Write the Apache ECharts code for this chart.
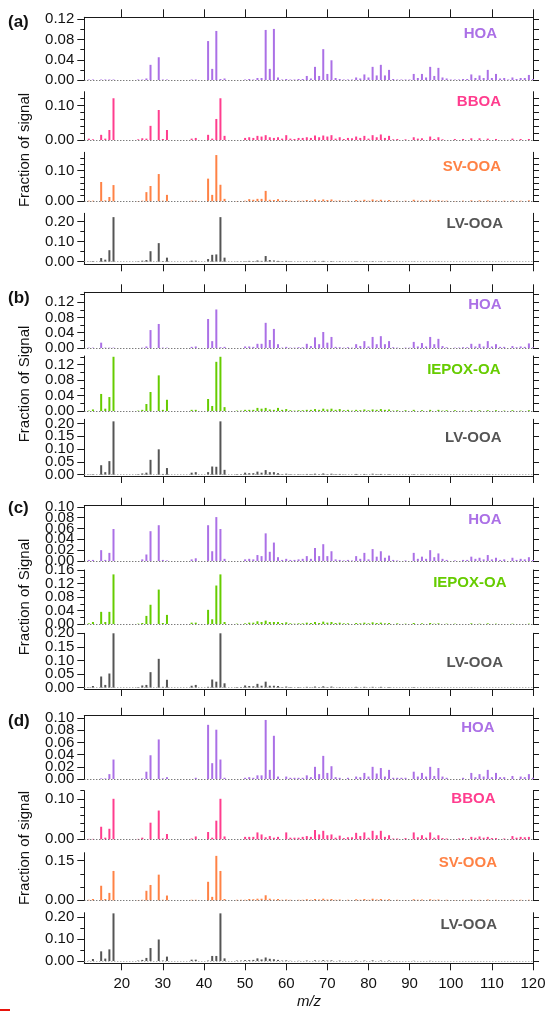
<!DOCTYPE html>
<html><head><meta charset="utf-8">
<script src="https://cdn.jsdelivr.net/npm/echarts@6/dist/echarts.min.js"></script>
<style>html,body{margin:0;padding:0;background:#fff}#c{width:549px;height:1012px}</style>
</head><body><div id="c"></div>
<script>
// ---------- data (m/z, fraction of signal) ----------
const X_TICKS = [20, 30, 40, 50, 60, 70, 80, 90, 100, 110, 120];

const hoaA = [[12,0.001],[13,0.001],[15,0.001],[16,0.001],[17,0.001],[18,0.001],[24,0.001],[25,0.001],[26,0.003],[27,0.030],[29,0.045],[30,0.001],[31,0.001],[37,0.001],[38,0.001],[41,0.077],[42,0.022],[43,0.097],[44,0.002],[45,0.003],[50,0.001],[51,0.002],[52,0.001],[53,0.004],[54,0.004],[55,0.099],[56,0.022],[57,0.101],[58,0.005],[59,0.001],[60,0.002],[61,0.001],[62,0.001],[63,0.002],[64,0.002],[65,0.008],[66,0.003],[67,0.026],[68,0.008],[69,0.061],[70,0.012],[71,0.039],[72,0.004],[73,0.002],[74,0.001],[75,0.001],[76,0.001],[77,0.005],[78,0.003],[79,0.011],[80,0.005],[81,0.026],[82,0.009],[83,0.030],[84,0.009],[85,0.020],[86,0.002],[87,0.001],[88,0.001],[89,0.001],[90,0.001],[91,0.012],[92,0.004],[93,0.012],[94,0.005],[95,0.026],[96,0.008],[97,0.024],[98,0.005],[99,0.003],[100,0.001],[101,0.001],[102,0.001],[103,0.002],[104,0.002],[105,0.011],[106,0.004],[107,0.009],[108,0.004],[109,0.020],[110,0.004],[111,0.012],[112,0.003],[113,0.004],[114,0.001],[115,0.005],[116,0.002],[117,0.004],[118,0.004],[119,0.010],[120,0.002]];
const bboaA = [[12,0.004],[13,0.002],[15,0.015],[16,0.004],[17,0.029],[18,0.121],[24,0.002],[25,0.005],[26,0.004],[27,0.041],[29,0.087],[30,0.003],[31,0.029],[37,0.004],[38,0.006],[41,0.015],[42,0.004],[43,0.061],[44,0.121],[45,0.012],[50,0.006],[51,0.008],[52,0.006],[53,0.012],[54,0.010],[55,0.014],[56,0.008],[57,0.006],[58,0.008],[59,0.004],[60,0.014],[61,0.004],[62,0.003],[63,0.006],[64,0.006],[65,0.008],[66,0.006],[67,0.013],[68,0.008],[69,0.013],[70,0.010],[71,0.014],[72,0.004],[73,0.008],[74,0.003],[75,0.006],[76,0.005],[77,0.010],[78,0.006],[79,0.012],[80,0.004],[81,0.014],[82,0.008],[83,0.016],[84,0.006],[85,0.012],[86,0.002],[87,0.003],[89,0.002],[91,0.008],[92,0.004],[93,0.005],[95,0.010],[96,0.003],[97,0.008],[98,0.002],[101,0.003],[103,0.003],[105,0.005],[107,0.005],[109,0.004],[111,0.003],[115,0.004],[117,0.003],[119,0.003]];
const svooaA = [[12,0.002],[13,0.002],[15,0.063],[16,0.003],[17,0.014],[18,0.053],[24,0.001],[25,0.002],[26,0.030],[27,0.050],[29,0.089],[30,0.002],[31,0.021],[37,0.002],[38,0.002],[41,0.074],[42,0.021],[43,0.151],[44,0.054],[45,0.008],[48,0.001],[49,0.001],[50,0.002],[51,0.007],[52,0.005],[53,0.008],[54,0.008],[55,0.034],[56,0.005],[57,0.004],[58,0.007],[59,0.002],[60,0.004],[61,0.002],[62,0.001],[63,0.002],[64,0.002],[65,0.004],[66,0.002],[67,0.006],[68,0.003],[69,0.006],[70,0.004],[71,0.006],[72,0.002],[73,0.003],[74,0.001],[75,0.002],[77,0.004],[78,0.002],[79,0.005],[80,0.002],[81,0.006],[82,0.003],[83,0.005],[84,0.002],[85,0.004],[86,0.001],[87,0.002],[89,0.002],[91,0.005],[92,0.002],[93,0.003],[94,0.002],[95,0.005],[96,0.002],[97,0.004],[98,0.002],[99,0.002],[101,0.001],[103,0.002],[105,0.003],[106,0.001],[107,0.003],[108,0.001],[109,0.003],[110,0.001],[111,0.002],[113,0.002],[115,0.003],[117,0.002],[119,0.003]];
const lvooaA = [[12,0.001],[13,0.003],[15,0.018],[16,0.010],[17,0.057],[18,0.221],[24,0.002],[25,0.005],[26,0.008],[27,0.052],[29,0.092],[30,0.003],[31,0.020],[37,0.005],[38,0.005],[41,0.013],[42,0.034],[43,0.036],[44,0.221],[45,0.020],[48,0.001],[49,0.001],[50,0.002],[51,0.004],[52,0.003],[53,0.006],[54,0.004],[55,0.028],[56,0.008],[57,0.006],[58,0.004],[59,0.002],[60,0.004],[61,0.002],[63,0.001],[65,0.002],[67,0.004],[69,0.004],[71,0.003],[73,0.002],[77,0.002],[79,0.002],[81,0.003],[83,0.002],[85,0.002],[91,0.001],[95,0.001],[97,0.001]];

const hoaB = [[12,0.001],[13,0.001],[15,0.014],[16,0.001],[17,0.001],[18,0.001],[25,0.001],[26,0.004],[27,0.047],[29,0.063],[30,0.001],[31,0.001],[37,0.003],[38,0.004],[41,0.076],[42,0.018],[43,0.101],[44,0.002],[45,0.003],[50,0.004],[51,0.004],[52,0.003],[53,0.011],[54,0.011],[55,0.066],[56,0.021],[57,0.050],[58,0.010],[59,0.001],[60,0.003],[61,0.001],[62,0.001],[63,0.002],[64,0.002],[65,0.011],[66,0.005],[67,0.028],[68,0.010],[69,0.042],[70,0.014],[71,0.029],[72,0.003],[73,0.002],[74,0.001],[75,0.002],[76,0.001],[77,0.010],[78,0.005],[79,0.018],[80,0.004],[81,0.029],[82,0.010],[83,0.031],[84,0.010],[85,0.018],[86,0.002],[87,0.001],[89,0.001],[90,0.001],[91,0.016],[92,0.004],[93,0.013],[94,0.004],[95,0.029],[96,0.010],[97,0.024],[98,0.005],[99,0.002],[101,0.001],[102,0.001],[103,0.002],[104,0.002],[105,0.011],[106,0.004],[107,0.011],[108,0.004],[109,0.018],[110,0.004],[111,0.010],[112,0.003],[113,0.003],[115,0.005],[116,0.002],[117,0.004],[118,0.003],[119,0.012],[120,0.002]];
const iepoxB = [[12,0.001],[13,0.004],[15,0.044],[16,0.006],[17,0.036],[18,0.140],[24,0.001],[25,0.003],[26,0.018],[27,0.049],[29,0.092],[30,0.003],[31,0.029],[37,0.003],[38,0.003],[41,0.031],[42,0.013],[43,0.127],[44,0.140],[45,0.010],[48,0.001],[49,0.001],[50,0.003],[51,0.003],[52,0.003],[53,0.008],[54,0.006],[55,0.008],[56,0.004],[57,0.003],[58,0.008],[59,0.003],[60,0.005],[61,0.002],[62,0.001],[63,0.002],[64,0.002],[65,0.003],[66,0.003],[67,0.005],[68,0.003],[69,0.006],[70,0.004],[71,0.006],[72,0.003],[73,0.005],[74,0.002],[75,0.003],[76,0.001],[77,0.003],[78,0.002],[79,0.004],[80,0.002],[81,0.004],[82,0.003],[83,0.005],[84,0.003],[85,0.004],[86,0.001],[87,0.002],[89,0.002],[91,0.003],[93,0.002],[95,0.003],[97,0.003],[98,0.001],[99,0.002],[101,0.002],[103,0.001],[105,0.002],[107,0.002],[109,0.002],[111,0.002],[113,0.001],[115,0.002],[117,0.001],[119,0.002]];
const lvooaB = [[12,0.001],[13,0.002],[15,0.037],[16,0.010],[17,0.053],[18,0.208],[24,0.002],[25,0.005],[26,0.008],[27,0.058],[29,0.099],[30,0.003],[31,0.026],[37,0.008],[38,0.010],[41,0.010],[42,0.032],[43,0.031],[44,0.208],[45,0.019],[48,0.002],[49,0.002],[50,0.008],[51,0.006],[52,0.006],[53,0.012],[54,0.008],[55,0.018],[56,0.010],[57,0.010],[58,0.006],[59,0.002],[60,0.004],[61,0.002],[62,0.001],[63,0.002],[64,0.001],[65,0.003],[66,0.002],[67,0.004],[68,0.002],[69,0.005],[70,0.002],[71,0.004],[72,0.002],[73,0.003],[74,0.001],[77,0.003],[79,0.003],[81,0.004],[82,0.002],[83,0.003],[84,0.001],[85,0.002],[91,0.002],[93,0.001],[95,0.002],[97,0.001],[105,0.001],[109,0.001]];

const hoaC = [[12,0.002],[13,0.002],[15,0.020],[16,0.002],[17,0.015],[18,0.059],[25,0.003],[26,0.012],[27,0.055],[29,0.066],[30,0.002],[31,0.001],[37,0.003],[38,0.005],[41,0.066],[42,0.018],[43,0.081],[44,0.059],[45,0.004],[50,0.003],[51,0.004],[52,0.003],[53,0.011],[54,0.009],[55,0.051],[56,0.017],[57,0.034],[58,0.007],[59,0.002],[60,0.004],[61,0.002],[62,0.002],[63,0.003],[64,0.004],[65,0.009],[66,0.004],[67,0.024],[68,0.009],[69,0.031],[70,0.009],[71,0.018],[72,0.003],[73,0.002],[74,0.001],[75,0.002],[76,0.001],[77,0.009],[78,0.004],[79,0.015],[80,0.003],[81,0.022],[82,0.008],[83,0.018],[84,0.006],[85,0.010],[86,0.002],[87,0.001],[89,0.001],[91,0.015],[92,0.004],[93,0.008],[94,0.004],[95,0.020],[96,0.007],[97,0.014],[98,0.004],[99,0.002],[101,0.001],[103,0.002],[104,0.002],[105,0.008],[106,0.004],[107,0.006],[108,0.003],[109,0.011],[110,0.003],[111,0.006],[112,0.002],[113,0.003],[115,0.006],[116,0.002],[117,0.004],[118,0.003],[119,0.007],[120,0.002]];
const iepoxC = [[12,0.002],[13,0.006],[15,0.036],[16,0.006],[17,0.036],[18,0.147],[24,0.001],[25,0.003],[26,0.024],[27,0.057],[29,0.102],[30,0.003],[31,0.027],[37,0.004],[38,0.004],[41,0.042],[42,0.014],[43,0.114],[44,0.147],[45,0.006],[48,0.001],[50,0.002],[51,0.004],[52,0.004],[53,0.008],[54,0.006],[55,0.010],[56,0.006],[57,0.006],[58,0.006],[59,0.003],[60,0.005],[61,0.002],[62,0.001],[63,0.002],[64,0.002],[65,0.004],[66,0.003],[67,0.006],[68,0.003],[69,0.007],[70,0.004],[71,0.006],[72,0.003],[73,0.004],[74,0.002],[75,0.002],[77,0.003],[78,0.002],[79,0.004],[80,0.002],[81,0.005],[82,0.003],[83,0.004],[84,0.002],[85,0.003],[87,0.002],[89,0.001],[91,0.003],[93,0.002],[95,0.003],[96,0.001],[97,0.002],[99,0.001],[101,0.001],[105,0.002],[107,0.001],[109,0.002],[111,0.001],[115,0.001],[119,0.001]];
const lvooaC = [[12,0.001],[13,0.006],[15,0.041],[16,0.010],[17,0.052],[18,0.200],[24,0.002],[25,0.008],[26,0.010],[27,0.057],[29,0.106],[30,0.003],[31,0.029],[37,0.007],[38,0.010],[41,0.003],[42,0.030],[43,0.022],[44,0.200],[45,0.016],[48,0.002],[49,0.002],[50,0.008],[51,0.006],[52,0.005],[53,0.014],[54,0.007],[55,0.022],[56,0.007],[57,0.007],[58,0.006],[59,0.002],[60,0.004],[61,0.002],[63,0.002],[65,0.003],[66,0.001],[67,0.004],[68,0.002],[69,0.005],[70,0.002],[71,0.004],[73,0.002],[77,0.003],[79,0.003],[81,0.003],[83,0.003],[85,0.002],[91,0.002],[95,0.001],[97,0.001],[105,0.001]];

const hoaD = [[15,0.001],[16,0.001],[17,0.008],[18,0.032],[25,0.001],[26,0.012],[27,0.039],[29,0.065],[30,0.001],[31,0.003],[38,0.002],[41,0.089],[42,0.026],[43,0.081],[44,0.032],[45,0.002],[50,0.002],[51,0.003],[52,0.002],[53,0.006],[54,0.006],[55,0.097],[56,0.015],[57,0.071],[58,0.004],[60,0.004],[61,0.002],[62,0.002],[63,0.002],[64,0.002],[65,0.006],[66,0.003],[67,0.020],[68,0.008],[69,0.038],[70,0.010],[71,0.021],[72,0.003],[73,0.002],[75,0.002],[77,0.004],[78,0.003],[79,0.010],[80,0.004],[81,0.020],[82,0.009],[83,0.018],[84,0.004],[85,0.015],[86,0.002],[87,0.002],[88,0.002],[89,0.002],[91,0.012],[92,0.004],[93,0.010],[94,0.004],[95,0.020],[96,0.005],[97,0.018],[98,0.004],[99,0.002],[103,0.002],[105,0.010],[106,0.003],[107,0.008],[108,0.004],[109,0.015],[110,0.003],[111,0.010],[112,0.003],[113,0.003],[115,0.005],[117,0.004],[118,0.003],[119,0.008],[120,0.002]];
const bboaD = [[12,0.001],[13,0.001],[15,0.031],[16,0.004],[17,0.026],[18,0.100],[24,0.001],[25,0.004],[27,0.041],[29,0.071],[30,0.002],[31,0.013],[37,0.002],[38,0.007],[41,0.018],[42,0.004],[43,0.046],[44,0.100],[45,0.007],[50,0.006],[51,0.006],[52,0.006],[53,0.017],[54,0.012],[55,0.005],[56,0.008],[57,0.004],[58,0.006],[60,0.017],[61,0.004],[62,0.004],[63,0.004],[64,0.006],[65,0.008],[66,0.006],[67,0.023],[68,0.012],[69,0.021],[70,0.010],[71,0.012],[72,0.004],[73,0.009],[74,0.003],[75,0.005],[76,0.005],[77,0.016],[78,0.008],[79,0.017],[80,0.004],[81,0.021],[82,0.010],[83,0.021],[84,0.006],[85,0.010],[86,0.002],[87,0.002],[89,0.003],[91,0.017],[92,0.005],[93,0.010],[94,0.004],[95,0.017],[96,0.004],[97,0.010],[98,0.003],[99,0.002],[102,0.002],[103,0.003],[105,0.006],[106,0.004],[107,0.007],[108,0.004],[109,0.006],[110,0.003],[111,0.003],[113,0.002],[115,0.008],[116,0.004],[117,0.006],[118,0.005],[119,0.006]];
const svooaD = [[12,0.002],[13,0.005],[15,0.055],[16,0.005],[17,0.028],[18,0.111],[24,0.001],[25,0.002],[26,0.036],[27,0.058],[29,0.097],[30,0.002],[31,0.018],[37,0.002],[38,0.002],[41,0.070],[42,0.013],[43,0.168],[44,0.111],[45,0.005],[48,0.002],[49,0.002],[50,0.002],[51,0.005],[52,0.004],[53,0.006],[54,0.006],[55,0.019],[56,0.006],[57,0.003],[58,0.005],[59,0.002],[60,0.003],[61,0.002],[63,0.002],[64,0.002],[65,0.004],[66,0.002],[67,0.005],[68,0.003],[69,0.006],[70,0.003],[71,0.005],[72,0.002],[73,0.003],[75,0.002],[77,0.004],[78,0.002],[79,0.005],[80,0.002],[81,0.006],[82,0.003],[83,0.005],[84,0.002],[85,0.004],[87,0.002],[89,0.001],[91,0.004],[92,0.002],[93,0.003],[95,0.004],[96,0.002],[97,0.003],[99,0.002],[101,0.001],[103,0.002],[105,0.003],[107,0.002],[109,0.003],[111,0.002],[113,0.001],[115,0.002],[117,0.002],[119,0.002]];
const lvooaD = [[12,0.001],[13,0.009],[15,0.044],[16,0.011],[17,0.053],[18,0.217],[24,0.002],[25,0.005],[26,0.014],[27,0.059],[29,0.098],[30,0.002],[31,0.020],[37,0.006],[38,0.006],[41,0.002],[42,0.023],[43,0.023],[44,0.217],[45,0.012],[48,0.002],[49,0.002],[50,0.004],[51,0.004],[52,0.005],[53,0.012],[54,0.007],[55,0.016],[56,0.010],[57,0.008],[58,0.005],[59,0.002],[60,0.003],[61,0.001],[63,0.001],[65,0.002],[67,0.003],[68,0.001],[69,0.004],[70,0.002],[71,0.003],[73,0.002],[77,0.002],[79,0.002],[81,0.003],[83,0.002],[85,0.002],[91,0.001],[95,0.001]];

// ---------- styles / layout ----------
const COL = { hoa: '#ab70e6', bboa: '#ff3d8e', sv: '#ff8245', iepox: '#66cc00', lv: '#555555' };
const FONT = '"Liberation Sans", Arial, Helvetica, sans-serif';
const AX = '#1a1a1a';
const LEFT = 84.3, RIGHT = 16, XMIN = 10.9, XMAX = 120;

const panels = [
  // group a
  { name: 'HOA', data: hoaA, color: COL.hoa, top: 17.3, bottom: 80, min: 0, max: 0.124, labels: [0, 0.04, 0.08, 0.12], minor: [0.02, 0.06, 0.10], right: [0, 0.02, 0.04, 0.06, 0.08, 0.10, 0.12], pos: 'top', lx: 497, ly: 34 },
  { name: 'BBOA', data: bboaA, color: COL.bboa, top: 91.7, bottom: 140, min: 0, max: 0.14, labels: [0, 0.10], minor: [0.02, 0.04, 0.06, 0.08, 0.12], right: [0, 0.02, 0.04, 0.06, 0.08, 0.10, 0.12], pos: 'mid', lx: 501, ly: 102 },
  { name: 'SV-OOA', data: svooaA, color: COL.sv, top: 152.3, bottom: 201.3, min: 0, max: 0.16, labels: [0, 0.10], minor: [0.02, 0.04, 0.06, 0.08, 0.12, 0.14], right: [0, 0.02, 0.04, 0.06, 0.08, 0.10, 0.12, 0.14], pos: 'mid', lx: 501, ly: 166.5 },
  { name: 'LV-OOA', data: lvooaA, color: COL.lv, top: 213.3, bottom: 264.3, min: -0.013, max: 0.24, labels: [0, 0.10, 0.20], minor: [0.05, 0.15], right: [0, 0.05, 0.10, 0.15, 0.20], pos: 'bottom', lx: 503, ly: 223.5, lv: true },
  // group b
  { name: 'HOA', data: hoaB, color: COL.hoa, top: 292.3, bottom: 348, min: 0, max: 0.146, labels: [0, 0.04, 0.08, 0.12], minor: [0.02, 0.06, 0.10, 0.14], right: [0, 0.02, 0.04, 0.06, 0.08, 0.10, 0.12, 0.14], pos: 'top', lx: 501.5, ly: 305 },
  { name: 'IEPOX-OA', data: iepoxB, color: COL.iepox, top: 356, bottom: 411, min: 0, max: 0.142, labels: [0, 0.04, 0.08, 0.12], minor: [0.02, 0.06, 0.10, 0.14], right: [0, 0.02, 0.04, 0.06, 0.08, 0.10, 0.12, 0.14], pos: 'mid', lx: 500.5, ly: 369.5 },
  { name: 'LV-OOA', data: lvooaB, color: COL.lv, top: 419.3, bottom: 476, min: -0.005, max: 0.216, labels: [0, 0.05, 0.10, 0.15, 0.20], minor: [], right: [0, 0.05, 0.10, 0.15, 0.20], pos: 'bottom', lx: 501.5, ly: 438, lv: true },
  // group c
  { name: 'HOA', data: hoaC, color: COL.hoa, top: 505.7, bottom: 561, min: 0, max: 0.102, labels: [0, 0.02, 0.04, 0.06, 0.08, 0.10], minor: [], right: [0, 0.02, 0.04, 0.06, 0.08, 0.10], pos: 'top', lx: 501.5, ly: 520 },
  { name: 'IEPOX-OA', data: iepoxC, color: COL.iepox, top: 570, bottom: 624, min: 0, max: 0.16, labels: [0, 0.04, 0.08, 0.12, 0.16], minor: [0.02, 0.06, 0.10, 0.14], right: [0, 0.02, 0.04, 0.06, 0.08, 0.10, 0.12, 0.14, 0.16], pos: 'mid', lx: 506.5, ly: 583 },
  { name: 'LV-OOA', data: lvooaC, color: COL.lv, top: 633.3, bottom: 689, min: -0.005, max: 0.20, labels: [0, 0.05, 0.10, 0.15, 0.20], minor: [], right: [0, 0.05, 0.10, 0.15, 0.20], pos: 'bottom', lx: 503, ly: 663, lv: true },
  // group d
  { name: 'HOA', data: hoaD, color: COL.hoa, top: 715.7, bottom: 779, min: 0, max: 0.104, labels: [0, 0.02, 0.04, 0.06, 0.08, 0.10], minor: [], right: [0, 0.02, 0.04, 0.06, 0.08, 0.10], pos: 'top', lx: 494.5, ly: 727.5 },
  { name: 'BBOA', data: bboaD, color: COL.bboa, top: 790.7, bottom: 839.3, min: 0, max: 0.12, labels: [0, 0.10], minor: [0.02, 0.04, 0.06, 0.08, 0.12], right: [0, 0.02, 0.04, 0.06, 0.08, 0.10, 0.12], pos: 'mid', lx: 495.5, ly: 798.7 },
  { name: 'SV-OOA', data: svooaD, color: COL.sv, top: 852.7, bottom: 900.3, min: 0, max: 0.18, labels: [0, 0.15], minor: [0.05, 0.10], right: [0, 0.05, 0.10, 0.15], pos: 'mid', lx: 497, ly: 863 },
  { name: 'LV-OOA', data: lvooaD, color: COL.lv, top: 912.7, bottom: 963.3, min: -0.0105, max: 0.22, labels: [0, 0.10, 0.20], minor: [0.05, 0.15], right: [0, 0.05, 0.10, 0.15, 0.20], pos: 'bottom', lx: 497, ly: 925, lv: true, xLabels: true }
];

const groupTags = [
  { text: '(a)', y: 22.5, title: 'Fraction of signal', ty: 150 },
  { text: '(b)', y: 298, title: 'Fraction of Signal', ty: 384 },
  { text: '(c)', y: 508, title: 'Fraction of Signal', ty: 597 },
  { text: '(d)', y: 721, title: 'Fraction of signal', ty: 848 }
];

const AXES_PER = 4;
const grids = [], xAxes = [], yAxes = [], series = [], graphics = [];
const labelStyle = { margin: 10, fontSize: 15, fontFamily: FONT, color: '#111', showMinLabel: true, showMaxLabel: true, hideOverlap: false, interval: 0, formatter: v => Number(v).toFixed(2) };
panels.forEach((p, i) => {
  grids.push({ left: LEFT, right: RIGHT, top: p.top, height: p.bottom - p.top, containLabel: false, outerBoundsMode: 'none' });
  const isTop = p.pos === 'top', isBot = p.pos === 'bottom';
  xAxes.push({
    gridIndex: i, type: 'value', min: XMIN, max: XMAX, show: isTop || isBot,
    position: isTop ? 'top' : 'bottom',
    axisLine: { show: true, onZero: false, lineStyle: { color: AX, width: 1 } },
    axisTick: { show: true, inside: false, customValues: X_TICKS, length: isTop ? 8 : 7, lineStyle: { color: AX, width: 1 } },
    axisLabel: { show: !!p.xLabels, customValues: X_TICKS, margin: 13, fontSize: 15, fontFamily: FONT, color: '#111', showMinLabel: true, showMaxLabel: true, hideOverlap: false, interval: 0 },
    splitLine: { show: false }
  });
  const yBase = { gridIndex: i, type: 'value', min: p.min, max: p.max, splitLine: { show: false } };
  const evenLabels = p.labels.filter((v, k) => k % 2 === 0);
  const oddLabels = p.labels.filter((v, k) => k % 2 === 1);
  // main left axis: line, major ticks, even labels
  yAxes.push(Object.assign({}, yBase, {
    position: 'left',
    axisLine: { show: true, onZero: false, lineStyle: { color: AX, width: 1 } },
    axisTick: { show: true, customValues: p.labels, length: 7, lineStyle: { color: AX } },
    axisLabel: Object.assign({ show: true, customValues: evenLabels }, labelStyle)
  }));
  // second left axis: odd labels
  yAxes.push(Object.assign({}, yBase, {
    position: 'left',
    axisLine: { show: false },
    axisTick: { show: false },
    axisLabel: Object.assign({ show: oddLabels.length > 0, customValues: oddLabels.length ? oddLabels : [0] }, labelStyle)
  }));
  // minor ticks
  yAxes.push(Object.assign({}, yBase, {
    position: 'left',
    axisLine: { show: false },
    axisTick: { show: p.minor.length > 0, customValues: p.minor.length ? p.minor : [0], length: 4, lineStyle: { color: AX } },
    axisLabel: { show: false }
  }));
  // right axis
  yAxes.push(Object.assign({}, yBase, {
    position: 'right',
    axisLine: { show: true, onZero: false, lineStyle: { color: AX, width: 1 } },
    axisTick: { show: true, customValues: p.right, length: 6, lineStyle: { color: AX } },
    axisLabel: { show: false }
  }));
  series.push({
    type: 'bar', xAxisIndex: i, yAxisIndex: AXES_PER * i, data: p.data, barWidth: 2,
    itemStyle: { color: p.color }, silent: true,
    markLine: {
      silent: true, symbol: 'none', label: { show: false },
      lineStyle: { type: [1, 2], color: p.lv ? '#9a9a9a' : '#444', width: 1 },
      data: [{ yAxis: 0 }]
    }
  });
  graphics.push({
    type: 'text', x: p.lx, y: p.ly,
    style: { text: p.name, fill: p.color, font: 'bold 15px ' + FONT, textAlign: 'right', textVerticalAlign: 'middle', align: 'right', verticalAlign: 'middle' }
  });
});

groupTags.forEach(g => {
  graphics.push({ type: 'text', x: 8, y: g.y, style: { text: g.text, fill: '#111', font: 'bold 17px ' + FONT, textAlign: 'left', textVerticalAlign: 'middle', align: 'left', verticalAlign: 'middle' } });
  graphics.push({ type: 'text', x: 25, y: g.ty, rotation: Math.PI / 2, style: { text: g.title, fill: '#111', font: '15px ' + FONT, textAlign: 'center', textVerticalAlign: 'middle', align: 'center', verticalAlign: 'middle' } });
});
graphics.push({ type: 'text', x: 309, y: 1002, style: { text: 'm/z', fill: '#111', font: 'italic 15px ' + FONT, textAlign: 'center', textVerticalAlign: 'middle', align: 'center', verticalAlign: 'middle' } });
graphics.push({ type: 'rect', shape: { x: 0, y: 1009, width: 10, height: 2 }, style: { fill: '#e8140c' } });

const chart = echarts.init(document.getElementById('c'), null, { renderer: 'canvas', width: 549, height: 1012 });
chart.setOption({
  animation: false,
  backgroundColor: '#ffffff',
  grid: grids, xAxis: xAxes, yAxis: yAxes, series: series, graphic: graphics
});
</script></body></html>
